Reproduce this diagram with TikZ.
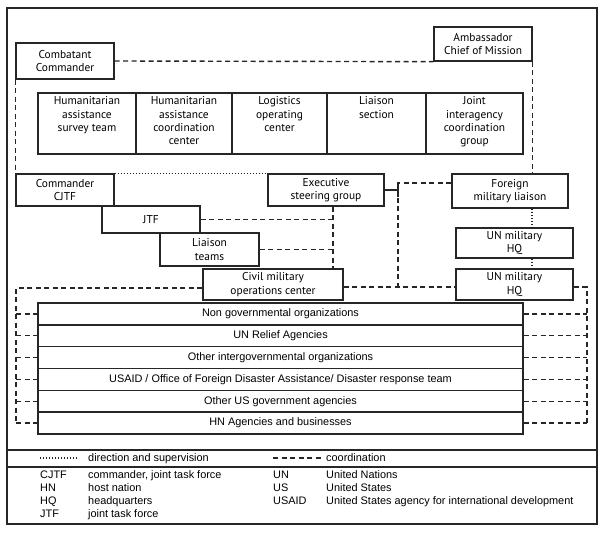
\documentclass[tikz,border=0pt]{standalone}
\usepackage{fontspec}
\setmainfont{Liberation Sans}
\newfontfamily\boxfont{PT Sans}
\usetikzlibrary{calc}
\begin{document}
\begin{tikzpicture}[x=1pt,y=-1pt,
  box/.style={draw=black!85, line width=1.4pt, rectangle, inner sep=0pt, align=center,
    font=\boxfont\fontsize{11.4}{13.4}\selectfont},
  toptext/.style={anchor=north, inner sep=0pt, align=center,
    font=\boxfont\fontsize{11.4}{13.3}\selectfont},
  rowbox/.style={draw=black!85, line width=1.4pt, minimum width=485pt, minimum height=21.83pt,
    inner sep=0pt, font=\fontsize{10.9}{12}\selectfont},
  dsh/.style={draw=black!85, line width=1.4pt, dash pattern=on 5pt off 3.5pt},
  dotl/.style={draw=black!85, line width=1.1pt, dash pattern=on 1pt off 2pt},
  lg/.style={font=\fontsize{10.9}{12}\selectfont, inner sep=0pt, anchor=base west}]
\useasboundingbox (0,0) rectangle (607,534);
\fill[white] (0,0) rectangle (607,534);
% frame
\draw[black!85, line width=1.8pt] (7,8) rectangle (597,524);
\draw[black!85, line width=1.4pt] (7,450) -- (597,450);
\draw[black!85, line width=1.4pt] (7,467) -- (597,467);

% top boxes
\node[box, minimum width=98pt, minimum height=36pt] (cc) at (65,61) {Combatant\\Commander};
\node[box, minimum width=98pt, minimum height=34pt] (amb) at (483,44) {Ambassador\\Chief of Mission};

\node[box, minimum width=98pt, minimum height=61pt] (t1) at (87,123.5) {};
\node[box, minimum width=96pt, minimum height=61pt] (t2) at (184,123.5) {};
\node[box, minimum width=95pt, minimum height=61pt] (t3) at (279.5,123.5) {};
\node[box, minimum width=99pt, minimum height=61pt] (t4) at (376.5,123.5) {};
\node[box, minimum width=97pt, minimum height=61pt] (t5) at (474.5,123.5) {};
\node[toptext] (t1t) at (87,96.5) {Humanitarian\\assistance\\survey team};
\node[toptext] (t2t) at (184,96.5) {Humanitarian\\assistance\\coordination\\center};
\node[toptext] (t3t) at (279.5,96.5) {Logistics\\operating\\center};
\node[toptext] (t4t) at (376.5,96.5) {Liaison\\section};
\node[toptext] (t5t) at (474.5,96.5) {Joint\\interagency\\coordination\\group};

% middle boxes
\node[box, minimum width=98pt, minimum height=32pt] (cjtf) at (65,190) {Commander\\CJTF};
\node[box, minimum width=116pt, minimum height=32pt] (esg) at (326,190) {Executive\\steering group};
\node[box, minimum width=116pt, minimum height=34pt] (fml) at (510,191) {Foreign\\military liaison};
\node[box, minimum width=98pt, minimum height=27pt] (jtf) at (151,219.5) {JTF};
\node[box, minimum width=99pt, minimum height=33pt] (lt) at (209.5,249.5) {Liaison\\teams};
\node[box, minimum width=140pt, minimum height=31pt] (cmoc) at (273,284.5) {Civil military\\operations center};
\node[box, minimum width=117pt, minimum height=30pt] (unu) at (514.5,243) {UN military\\HQ};
\node[box, minimum width=117pt, minimum height=31pt] (unl) at (514.5,284.5) {UN military\\HQ};

% rows
\node[rowbox] (r1) at (280.5,313.9) {Non governmental organizations};
\node[rowbox] (r2) at (280.5,335.7) {UN Relief Agencies};
\node[rowbox] (r3) at (280.5,357.6) {Other intergovernmental organizations};
\node[rowbox] (r4) at (280.5,379.4) {USAID / Office of Foreign Disaster Assistance/ Disaster response team};
\node[rowbox] (r5) at (280.5,401.2) {Other US government agencies};
\node[rowbox] (r6) at (280.5,423.1) {HN Agencies and businesses};

% connectors
\draw[dsh] (cc.east) -- (amb.south west);
\draw[dsh] (amb.south east) -- (amb.south east |- fml.north);
\draw[dsh] (cc.south west) -- (cjtf.north west);
\draw[dotl] (cjtf.north east) -- (esg.north west);

\coordinate (vx) at ($(esg.south)+(7,0)$);
\draw[dsh] (vx) -- (vx |- cmoc.north);
\draw[dsh] (jtf.east) -- (jtf.east -| vx);
\draw[dsh] (lt.east) -- (lt.east -| vx);

\coordinate (tj) at (398,183);
\coordinate (hj) at (398,287);
\draw[black!85, line width=1.4pt] (esg.east) -- (esg.east -| tj);
\draw[black!85, line width=1.4pt] (398,183) -- (398,197);
\draw[dsh] (tj -| fml.west) -- (tj) -- (hj);
\draw[dsh] (cmoc.east |- hj) -- (unl.west |- hj);

\coordinate (fx) at (532,0);
\draw[dotl] (fx |- fml.south) -- (fx |- unu.north);
\draw[dotl] (fx |- unu.south) -- (fx |- unl.north);

\coordinate (R) at (587,287);
\draw[dsh] (unl.east |- R) -- (R) -- (R |- r6.east);
\foreach \r in {r1,r2,r3,r4,r5,r6} \draw[dsh] (\r.east) -- (R |- \r.east);

\coordinate (L) at (16,288);
\draw[dsh] (cmoc.west |- L) -- (L) -- (L |- r6.west);
\foreach \r in {r1,r2,r3,r4,r5,r6} \draw[dsh] (L |- \r.west) -- (\r.west);

% legend
\coordinate (ld1) at (40,458);
\coordinate (ld2) at (78,458);
\draw[dotl] (ld1) -- (ld2);
\node[lg] (lgd) at (88,461.8) {direction and supervision};
\coordinate (lc1) at (273,458);
\coordinate (lc2) at (322,458);
\draw[dsh] (lc1) -- (lc2);
\node[lg] (lgc) at (326,461.8) {coordination};

\node[lg] (a1) at (40,478) {CJTF};
\node[lg] (a2) at (40,491) {HN};
\node[lg] (a3) at (40,504) {HQ};
\node[lg] (a4) at (40,517) {JTF};
\node[lg] (d1) at (88,478) {commander, joint task force};
\node[lg] (d2) at (88,491) {host nation};
\node[lg] (d3) at (88,504) {headquarters};
\node[lg] (d4) at (88,517) {joint task force};
\node[lg] (a5) at (273,478) {UN};
\node[lg] (a6) at (273,491) {US};
\node[lg] (a7) at (273,504) {USAID};
\node[lg] (d5) at (326,478) {United Nations};
\node[lg] (d6) at (326,491) {United States};
\node[lg] (d7) at (326,504) {United States agency for international development};
\end{tikzpicture}
\end{document}
